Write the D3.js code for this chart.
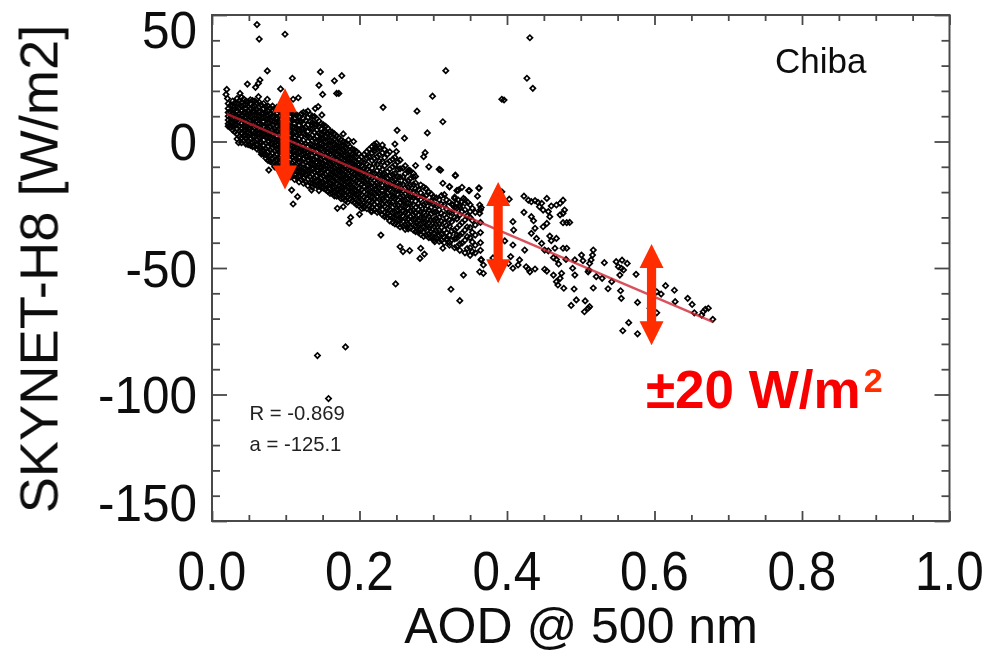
<!DOCTYPE html>
<html><head><meta charset="utf-8">
<script src="https://cdn.jsdelivr.net/npm/d3@7/dist/d3.min.js"></script>
<style>html,body{margin:0;background:#fff}svg{display:block}text{font-family:"Liberation Sans",Arial,sans-serif}</style>
</head><body><svg id="c" width="990" height="653"></svg>
<script>
const xTicks=[0,0.2,0.4,0.6,0.8,1.0];
const yTicks=[50,0,-50,-100,-150];
const xTitle="AOD @ 500 nm", yTitle="SKYNET-H8 [W/m2]", station="Chiba";
const statLines=["R = -0.869","a = -125.1"];
const fitAod=[0.02,0.679], fitSkynet=[10.9,-71.3];
const arrowAod=[0.099,0.388,0.596], arrowCentre=[1,-36,-60.5], arrowHalf=20;

const denseAod=[.022,.028,.034,.040,.046,.052,.058,.064,.070,.076,.082,.088,.094,.100,.106,.112,.118,.124,.130,.136,.142,.148,.154,.160,.166,.172,.178,.184,.190,.196,.203,.210,.217,.224,.231,.238,.245,.252,.259,.266,.273,.280,.287,.294,.301,.308,.315,.322,.329,.336,.343,.350,.357,.364];
const denseSkynet=[
[15,13,11.5,10,8.5,7,6],
[16,14,12.5,11,9,7.5,6,4.5],
[17,15,13.5,12,10,8.5,6.5,5,3,1],
[17.5,15.5,14,12,10.5,9,7,5,3.5,1.5,-.5],
[16,14.5,13,11.5,9.5,8,6,4.5,2.5,1,-1],
[16.5,15,13,11,10,8,6.5,5,3,1,-1.5],
[16,14,12,10.5,9,7,5.5,3.5,2,0,-2],
[15.5,13.5,12,10,8.5,7,5,3,1.5,-.5,-2.5],
[15,13,11,9.5,8,6,4,2.5,.5,-1.5,-3.5,-5],
[14,12,10.5,9,7,5,3.5,1.5,0,-2,-4,-6,-7.5],
[14,12.5,10,8,6.5,4.5,3,1,-1,-2.5,-4.5,-6.5,-8.5],
[13.5,11,9.5,7.5,6,4,2,.5,-1.5,-3,-5,-7,-9,-10.5],
[13,11.5,9,7,5.5,3.5,1.5,0,-2,-4,-5.5,-7.5,-9.5,-11],
[12.5,10.5,8.5,6.5,5,3,1,-1,-2.5,-4.5,-6.5,-8,-10,-12],
[12,10,8,6,4,2.5,.5,-1.5,-3,-5,-7,-9,-10.5,-12.5,-14],
[11,9,7,5.5,3.5,1.5,0,-2,-4,-5.5,-7.5,-9.5,-11.5,-13,-15],
[10,8,6.5,4.5,3,1,-1,-2.5,-4.5,-6.5,-8,-10,-12,-14,-16],
[11.5,9,7,5,3,.5,-1.5,-3.5,-5,-7,-9,-10.5,-12.5,-14.5,-16.5],
[12,9.5,6.5,4,2,0,-2,-4,-6,-7.5,-9.5,-11.5,-13,-15,-17.5],
[10,7.5,5,2.5,.5,-1.5,-3.5,-5.5,-7,-9,-11,-13,-15,-16.5,-18],
[9,6.5,4.5,2,0,-2,-4,-6,-8,-10,-11.5,-13.5,-15.5,-17.5],
[7,5,3,1,-1,-3,-5,-7,-8.5,-10.5,-12.5,-14.5,-16,-18],
[6,4,2,0,-2,-3.5,-5.5,-7.5,-9.5,-11,-13,-15,-17,-19],
[4,2.5,.5,-1.5,-3.5,-5,-7,-9,-11,-13,-14.5,-16.5,-18.5,-20.5],
[3,1,-1,-3,-4.5,-6.5,-8.5,-10.5,-12,-14,-16,-18,-20,-21.5],
[1.5,-.5,-2,-4,-6,-8,-10,-11.5,-13.5,-15.5,-17.5,-19,-21],
[0,-1.5,-3.5,-5.5,-7.5,-9,-11,-13,-15,-17,-18.5,-20.5,-22.5],
[-1,-3,-5,-7,-8.5,-10.5,-12.5,-14.5,-16,-18,-20,-22,-24],
[-3,-5,-6.5,-8.5,-10.5,-12,-14,-16,-18,-20,-21.5,-23.5],
[-4,-6,-8,-10,-12,-13.5,-15.5,-17.5,-19.5,-21,-23,-25],
[-6,-8,-9.5,-11.5,-13.5,-15.5,-17,-19,-21,-23,-25,-26.5],
[-4,-6.5,-9,-11,-13,-15,-17,-19,-21,-22.5,-24.5,-26.5],
[-2,-4.5,-7.5,-10.5,-12.5,-14.5,-16.5,-18,-20,-22,-24,-26,-27.5],
[-3,-6,-9,-11.5,-14,-16,-18,-20,-22,-24,-26,-28],
[-4.5,-8,-11,-13,-15,-17.5,-19.5,-21,-23,-25,-27,-29],
[-5,-8.5,-12,-14.5,-16.5,-18.5,-20.5,-22.5,-24.5,-26.5,-28.5,-30],
[-7,-10,-13,-15.5,-17.5,-20,-22,-24,-26,-28,-30,-32],
[-8,-11,-14,-16.5,-19,-21,-23,-25,-27,-29,-31,-33],
[-10.5,-14,-17,-19.5,-21.5,-23.5,-25.5,-27.5,-29.5,-31.5,-33.5],
[-12,-15.5,-18,-20,-22.5,-24.5,-26.5,-28.5,-30.5,-32.5,-34.5],
[-14,-17,-20,-22,-25,-27,-29,-31,-33,-35],
[-19,-22,-24.5,-27,-29,-31,-33,-35,-36],
[-18,-22,-25,-28,-30,-32,-34,-36,-37.5],
[-20,-24,-27,-29.5,-32,-34,-36.5,-38],
[-22,-25,-28,-31,-33.5,-36,-38,-39],
[-23,-27,-30,-32.5,-35,-37,-39.5],
[-21,-25,-29,-32,-35,-38,-40],
[-24,-28,-31,-33.5,-37,-40,-41],
[-22,-26,-30,-35,-38.5,-42],
[-26,-29,-33,-37,-40.5,-43],
[-23,-27,-31,-35,-39,-44],
[-25,-30,-34,-38,-42,-45],
[-28,-33,-37,-41,-44],
[-27,-32,-36,-40,-43]
];
const fillAod=[.025,.031,.037,.043,.049,.055,.061,.067,.073,.079,.085,.091,.097,.103,.109,.115,.121,.127,.133,.139,.145,.151,.157,.163,.169,.175,.181,.187,.193,.199,.206,.213,.220,.227,.234,.241,.248,.255,.262,.269,.276,.283,.290,.297,.304,.311,.318,.325,.332,.339,.346,.353];
const fillSkynet=[
[14.2,11.7,9.4,7.8,5.6],
[15.3,12.8,10.4,8.1,6.7,3.8],
[16.1,13.2,11.1,9.3,6.2,4.1,1.9],
[16.8,14.4,11.3,8.7,6.3,4.4,2.2,.3],
[15.7,12.2,10.1,7.2,5.2,3.2,.4,-1.2],
[16.2,13.7,11.8,8.8,7.3,4.2,2.1,-.3,-2],
[15.1,12.6,10.4,8.2,5.7,3.1,.8,-1.2,-3],
[14.4,11.1,9.2,6.6,4.3,2,-.4,-2.7,-4.2],
[13.7,11.6,8.8,6.9,4.7,1.9,-.7,-2.9,-5.1,-6.6],
[13.1,10.7,8.4,5.9,3.4,1.2,-1,-3.4,-5.7,-7.9],
[12.9,10.1,7.7,5.1,3.7,.9,-1.6,-3.8,-6.1,-8.4,-10],
[12.2,9.8,7.4,5.2,2.9,.2,-2.4,-4.3,-6.8,-8.7,-10.8],
[12,9.6,6.9,4.4,1.8,-.6,-3.2,-5.1,-7.4,-9.6,-11.6],
[11.2,8.9,6.2,3.9,1.4,-.9,-3.6,-5.8,-8.2,-10.4,-13],
[10.8,8.4,5.7,3.1,.8,-1.7,-4.2,-6.3,-8.7,-11.1,-13.6],
[10.4,8,5.1,2.6,.3,-2.4,-4.7,-7.1,-9.2,-11.8,-14.2],
[10.9,7.7,4.9,2.2,-.4,-2.9,-5.2,-7.6,-10.1,-12.3,-15],
[11.3,8.4,5.6,2.7,-.9,-3.3,-5.9,-8.2,-10.8,-13.1,-15.9],
[10.6,7.8,5.1,1.6,-1.2,-3.8,-6.6,-8.9,-11.3,-13.9,-16.4],
[9.8,6.9,3.6,1.1,-1.9,-4.6,-7.1,-9.4,-12.1,-14.6,-17.1],
[8.1,5.9,3.2,.3,-2.6,-5.2,-7.6,-10.3,-12.7,-15.4,-17.6],
[6.6,3.9,1.3,-1.2,-3.9,-6.2,-8.7,-11.1,-13.6,-16.1,-18.4],
[5.2,2.8,.2,-2.7,-4.6,-7.1,-9.6,-12,-14.6,-17,-19.7],
[3.7,1.4,-1.3,-3.8,-6.1,-8.4,-11,-13.2,-15.8,-18.1,-20.4],
[2.2,-.2,-2.7,-5,-7.2,-9.7,-12.1,-14.4,-16.8,-19.2,-21.6],
[.7,-1.7,-4.1,-6.3,-8.6,-10.9,-13.4,-15.7,-18.2,-20.3,-22.6],
[-.6,-2.8,-5.4,-7.6,-9.9,-12.2,-14.6,-17,-19.1,-21.4,-23.4],
[-2.1,-4.3,-6.7,-8.9,-11.2,-13.6,-15.8,-18.2,-20.6,-22.8],
[-3.4,-5.7,-7.9,-10.2,-12.7,-14.9,-17.2,-19.4,-21.8,-24.1],
[-4.8,-7.2,-9.4,-11.6,-13.8,-16.2,-18.6,-20.8,-23.2,-25.4],
[-5.2,-8.3,-10.8,-12.9,-15.3,-17.7,-19.9,-22.1,-24.4,-26.2],
[-3.1,-6.2,-9.7,-12.1,-14.2,-16.8,-18.9,-21.3,-23.6,-25.7],
[-1.2,-3.9,-6.7,-8.9,-12.6,-15.4,-17.7,-20.1,-22.4,-24.7,-27.1],
[-2.6,-5.3,-7.8,-10.4,-13.2,-15.7,-18.1,-20.4,-22.9,-25.3,-27.6],
[-3.2,-6.4,-9.6,-12.8,-15.1,-18.3,-20.8,-23.3,-25.6,-28.1,-29.7],
[-4.1,-7.8,-10.9,-13.7,-16.3,-18.9,-21.7,-24.2,-26.8,-29.3,-31.4],
[-6.3,-9.3,-12.7,-15.2,-17.8,-20.2,-22.6,-25.1,-27.9,-30.2,-32.6],
[-7.4,-10.8,-14.1,-16.9,-19.2,-21.8,-24.1,-26.7,-28.9,-31.2,-33.8],
[-9.6,-12.7,-15.8,-18.3,-20.7,-23.4,-25.6,-28.1,-30.4,-32.9,-34.7],
[-11.7,-14.6,-17.2,-19.7,-22.1,-24.7,-27.2,-29.6,-31.9,-34.2],
[-13.8,-16.4,-18.7,-21.3,-23.6,-26.1,-28.4,-30.9,-33.2,-35.6],
[-17.2,-20.3,-22.9,-25.4,-27.8,-30.1,-32.7,-34.8,-36.7],
[-18.6,-21.4,-24.3,-26.8,-29.3,-31.8,-34.2,-36.9],
[-20.7,-23.6,-26.1,-28.7,-31.2,-33.4,-35.8,-37.9],
[-22.3,-25.2,-27.8,-30.4,-32.8,-35.3,-38.1],
[-21.4,-24.8,-28.4,-31.6,-34.1,-36.7,-39.1],
[-23.1,-26.7,-30.1,-33.2,-36.1,-38.8],
[-24.8,-28.2,-31.7,-35.4,-38.9],
[-26.3,-30.6,-34.2,-38.2,-41.6],
[-27.7,-32.1,-36.3,-40.2],
[-29.4,-33.8,-37.6,-42.3],
[-26.4,-31.2,-35.9,-39.7,-43.6]
];
const scatterAod=[.061,.064,.099,.075,.109,.065,.063,.059,.048,.147,.166,.176,.145,.15,.169,.172,.093,.02,.019,.021,.317,.299,.232,.278,.313,.292,.251,.261,.393,.431,.427,.435,.396,.143,.181,.158,.249,
.186,.188,.170,.178,.200,.216,.229,.255,.259,.268,.283,.288,.282,.110,.116,.108,.145,.135,.036,.067,.077,.302,.318,.332,.313,.365,.381,.313,.322,.310,.330,.362,.349,.334,.308,.294,.276,.287,.289,.267,.273,.248,.250,.223,.231,.221,.178,.185,.192,.144,.140,.149,.117,.110,.075,.038,.063,
.330,.362,.348,.360,.403,.393,.339,.332,.322,.329,.334,.338,.343,.347,.336,.341,.332,.327,.363,.365,.363,.350,.408,.409,
.423,.429,.433,.438,.442,.447,.444,.449,.456,.460,.467,.472,.476,.454,.423,.433,.436,.478,.476,.472,.458,.454,.449,.476,.481,.485,
.438,.433,.440,.458,.467,.460,.447,.451,.456,.465,.476,.481,.424,.397,.408,.405,.417,.415,.408,.426,.429,.431,.438,.451,.454,
.402,.368,.365,.363,.368,.341,.324,.336,.463,.467,.470,.480,.492,.501,.503,.517,.516,.514,.512,.532,.548,.556,.563,.551,.555,.558,.553,.575,
.511,.510,.521,.529,.542,.489,.492,.463,.474,.472,.467,.469,.477,.491,.517,.537,.554,.555,.577,.494,.487,.506,.512,.510,.505,
.615,.627,.603,.609,.628,.645,.651,.654,.664,.666,.669,.673,.679,.594,.603,.565,.557,.577];
const scatterSkynet=[46.2,40.5,42.4,27.9,25,24.3,23,21.4,22.7,27.5,24,26,22.2,18.6,19,19,20.8,20.6,18.6,17,28,17.9,13.5,12,7.8,3.4,4.4,1.3,16.7,41,25,21,16.4,-84.6,-81.2,-101.6,-56.3,
-32.3,-30,-26.4,-25.8,-28.8,-27.7,-37,-41.6,-43.5,-43.1,-42.2,-44.5,-46.2,-24.7,-21.8,-19.2,-19.4,-19.2,-.5,-5,-11.3,-39.6,-38.5,-37,-42.2,-46.8,-46,-16.5,-17.8,-11.3,-13.3,-18.5,-19.4,-19.2,-11,-10,-9.5,-6,-4.4,-11.3,-12.6,-1,-4,-.7,-1.4,-2.7,3,.6,0,13.8,13,10.5,17.3,16.7,16.7,19,17.7,
-13.5,-18.3,-19.4,-21.6,-22.8,-19.9,-18.1,-19.4,-17.9,-22.5,-23.2,-23.8,-24.4,-24.1,-25.1,-22.5,-24.4,-25.1,-25.1,-26.1,-28.4,-27.7,-31.7,-35,
-21.6,-23.2,-23.8,-23.4,-24.1,-24.4,-25.8,-27.1,-27.7,-25.5,-25.1,-24.4,-23.2,-22.5,-28,-29.7,-31.3,-27.1,-28.4,-29,-29.7,-32.4,-33.7,-32.1,-32.1,-32,
-34.3,-36.3,-38.3,-37.4,-38.3,-39.2,-40.3,-42.9,-43.2,-42.2,-42.2,-42.2,-42.9,-39.3,-40.9,-45.5,-46.8,-48.8,-50.1,-49.5,-50.4,-51.5,-50.4,-50.5,-51.2,
-48.2,-48.8,-46.6,-51.5,-52.1,-52.8,-58.4,-62.9,-45.9,-46.6,-48.4,-46.6,-46.8,-44.9,-47.1,-42.9,-44.9,-46.8,-48.2,-47.9,-47.5,-46.9,-48.2,-49.5,-50.1,-50.8,-52.8,-52.5,
-50.8,-51.5,-53.4,-54.1,-55.4,-50.1,-52.8,-52.8,-52.1,-54.1,-55.4,-56.7,-58,-58.3,-57.9,-58.2,-59,-62,-63.6,-62.6,-64.8,-63,-65.3,-65.9,-67.3,
-57,-58.8,-59.4,-60.3,-63.3,-62,-64.4,-67.7,-68.6,-67.3,-66.3,-65.9,-70.3,-65.9,-67.7,-71.6,-74.8,-76];

const x=d3.scaleLinear().domain([0,1]).range([212,949.5]);
const y=d3.scaleLinear().domain([-150,50]).range([521,15]);
const svg=d3.select("#c");
const defs=svg.append("defs");
defs.append("filter").attr("id","soft").append("feGaussianBlur").attr("stdDeviation",0.45);
defs.append("filter").attr("id","soft2").append("feGaussianBlur").attr("stdDeviation",0.4);

const points=[];
denseAod.forEach((a,i)=>denseSkynet[i].forEach(v=>points.push([a,v])));
fillAod.forEach((a,i)=>fillSkynet[i].forEach(v=>points.push([a,v])));
scatterAod.forEach((a,i)=>points.push([a,scatterSkynet[i]]));

const sym=d3.symbol().type(d3.symbolSquare).size(14)();
svg.append("g").attr("filter","url(#soft)").selectAll("path").data(points).join("path")
  .attr("d",sym)
  .attr("transform",d=>`translate(${x(d[0])},${y(d[1])}) rotate(45)`)
  .attr("fill","none").attr("stroke","#050505").attr("stroke-width",1.7);

svg.append("path").datum(fitAod.map((a,i)=>[a,fitSkynet[i]]))
  .attr("d",d3.line().x(d=>x(d[0])).y(d=>y(d[1])))
  .attr("fill","none").attr("stroke","#cc2430").attr("stroke-opacity",.78).attr("stroke-width",2.4).attr("filter","url(#soft2)");

// frame and ticks
const axisCol="#4a4a4a";
const g=svg.append("g").attr("filter","url(#soft2)");
const minorX=d3.range(0,21).map(i=>i*0.05).filter(v=>Math.abs(v/0.2-Math.round(v/0.2))>1e-6);
const minorY=d3.range(-15,6).map(i=>i*10).filter(v=>v%50!==0);
function sideAxis(axis,transform){
  const s=g.append("g").attr("transform",transform).call(axis);
  s.selectAll("text").remove();s.select(".domain").remove();
  s.selectAll("line").attr("stroke",axisCol).attr("stroke-width",1.8);
}
const xMajorLen=10,xMinorLen=6,yMajorLen=15,yMinorLen=8;
sideAxis(d3.axisTop(x).tickValues(xTicks).tickSize(xMajorLen),"translate(0,521)");
sideAxis(d3.axisTop(x).tickValues(minorX).tickSize(xMinorLen),"translate(0,521)");
sideAxis(d3.axisBottom(x).tickValues(xTicks).tickSize(xMajorLen),"translate(0,15)");
sideAxis(d3.axisBottom(x).tickValues(minorX).tickSize(xMinorLen),"translate(0,15)");
sideAxis(d3.axisRight(y).tickValues(yTicks).tickSize(yMajorLen),"translate(212,0)");
sideAxis(d3.axisRight(y).tickValues(minorY).tickSize(yMinorLen),"translate(212,0)");
sideAxis(d3.axisLeft(y).tickValues(yTicks).tickSize(yMajorLen),"translate(949.5,0)");
sideAxis(d3.axisLeft(y).tickValues(minorY).tickSize(yMinorLen),"translate(949.5,0)");
g.append("rect").attr("x",212).attr("y",15).attr("width",737.5).attr("height",506)
  .attr("fill","none").attr("stroke",axisCol).attr("stroke-width",2);

// labels
const tickCol="#111";
const xStretch=1.11,yStretch=1.05;
const t=svg.append("g").attr("fill",tickCol).attr("filter","url(#soft2)");
t.selectAll(".xl").data(xTicks).join("text").attr("class","xl")
  .attr("transform",d=>`translate(${x(d)},590) scale(1,${xStretch})`)
  .attr("text-anchor","middle").attr("font-size",49.5).text(d=>d.toFixed(1));
t.selectAll(".yl").data(yTicks).join("text").attr("class","yl")
  .attr("transform",d=>`translate(197,${y(d)+(d===50?33:d===-150?0:18.5)}) scale(1,${yStretch})`)
  .attr("text-anchor","end").attr("font-size",49.5).text(d=>d);
t.append("text").attr("x",581).attr("y",642.5).attr("text-anchor","middle").attr("font-size",50).text(xTitle);
t.append("text").attr("transform","translate(57.5,269) rotate(-90)").attr("text-anchor","middle").attr("font-size",54.3).text(yTitle);
t.append("text").attr("x",775).attr("y",73).attr("font-size",35).text(station);
t.selectAll(".st").data(statLines).join("text").attr("class","st")
  .attr("x",249.5).attr("y",(d,i)=>420+i*30.5).attr("font-size",20.3).attr("fill","#222").text(d=>d);

// arrows
const arrowCol="#ff2d00";
const headW=12,headL=24,shaft=4.6;
svg.append("g").selectAll("path").data(arrowAod.map((a,i)=>[a,arrowCentre[i]])).join("path")
  .attr("fill",arrowCol)
  .attr("d",d=>{
    const cx=x(d[0]),t=y(d[1]+arrowHalf),b=y(d[1]-arrowHalf);
    return d3.line()([[cx,t],[cx+headW,t+headL],[cx+shaft,t+headL],[cx+shaft,b-headL],[cx+headW,b-headL],[cx,b],[cx-headW,b-headL],[cx-shaft,b-headL],[cx-shaft,t+headL],[cx-headW,t+headL]])+"Z";
  });

const red=svg.append("text").attr("x",646).attr("y",408).attr("fill","#f80000").attr("font-weight","bold").attr("font-size",53);
red.append("tspan").text("±20 W/m");
red.append("tspan").attr("dy",-16).attr("dx",3).attr("font-size",34).attr("fill","#ff2d00").text("2");
</script></body></html>
